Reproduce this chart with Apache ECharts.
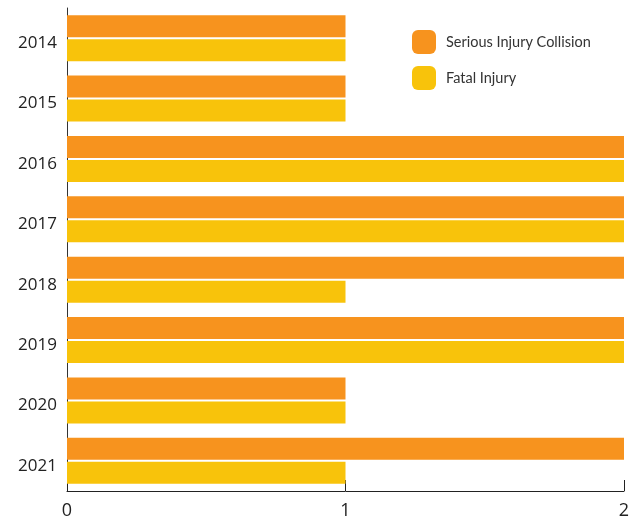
<!DOCTYPE html>
<html>
<head>
<meta charset="utf-8">
<script src="https://cdn.jsdelivr.net/npm/echarts@6/dist/echarts.min.js"></script>
<style>
  html, body { margin: 0; padding: 0; background: #fff; }
  #chart { width: 637px; height: 520px; }
</style>
</head>
<body>
<div id="chart"></div>
<script>
// Collisions by year
const years = ['2014', '2015', '2016', '2017', '2018', '2019', '2020', '2021'];
const seriousInjury = [1, 1, 2, 2, 2, 2, 1, 2];
const fatalInjury = [1, 1, 2, 2, 1, 2, 1, 1];
const xTicks = [0, 1, 2];

const chart = echarts.init(document.getElementById('chart'), null, { renderer: 'canvas' });

chart.setOption({
  animation: false,
  backgroundColor: '#ffffff',
  grid: {
    left: 67, right: 13, top: 8, bottom: 29,
    containLabel: false,
    outerBoundsMode: 'none'
  },
  legend: {
    left: 407,
    top: 25,
    orient: 'vertical',
    icon: 'roundRect',
    itemWidth: 24,
    itemHeight: 24,
    itemGap: 12,
    textStyle: {
      color: '#333',
      fontSize: 14.5,
      padding: [0, 0, 0, 5],
      fontFamily: 'Lato, "Noto Sans", sans-serif'
    },
    data: ['Serious Injury Collision', 'Fatal Injury']
  },
  xAxis: {
    type: 'value',
    min: xTicks[0],
    max: xTicks[xTicks.length - 1],
    interval: 1,
    axisLine: { show: true, lineStyle: { color: '#222', width: 1 } },
    axisTick: { show: true, inside: true, length: 11, lineStyle: { color: '#222' } },
    splitLine: { show: false },
    axisLabel: {
      color: '#222',
      fontSize: 18,
      margin: 11,
      fontFamily: '"Open Sans", "Noto Sans", sans-serif'
    }
  },
  yAxis: {
    type: 'category',
    data: years,
    inverse: true,
    axisLine: { show: true, lineStyle: { color: '#333', width: 1 } },
    axisTick: { show: false },
    axisLabel: {
      margin: 10,
      formatter: '{y|{value}}',
      rich: {
        y: {
          color: '#222',
          fontSize: 17,
          padding: [10, 0, 0, 0],
          fontFamily: '"Open Sans", "Noto Sans", sans-serif'
        }
      }
    }
  },
  series: [
    {
      name: 'Serious Injury Collision',
      type: 'bar',
      data: seriousInjury,
      barWidth: 22,
      barGap: '9%',
      itemStyle: { color: '#F7931E' }
    },
    {
      name: 'Fatal Injury',
      type: 'bar',
      data: fatalInjury,
      barWidth: 22,
      barGap: '9%',
      itemStyle: { color: '#F8C30B' }
    }
  ]
});
</script>
</body>
</html>
